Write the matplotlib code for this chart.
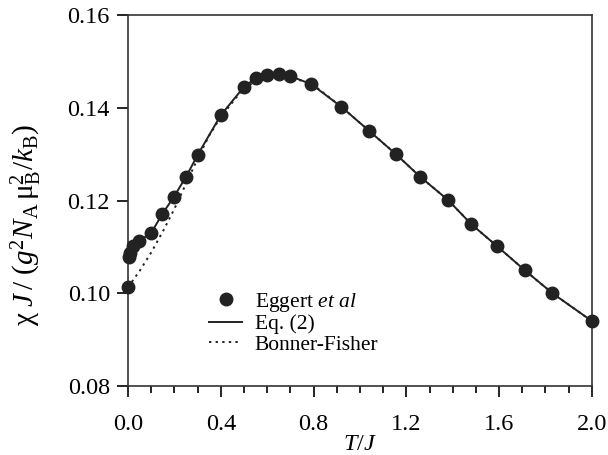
import matplotlib
matplotlib.use("Agg")
import matplotlib.pyplot as plt
from matplotlib.ticker import MultipleLocator

plt.rcParams['font.family'] = ['Liberation Serif', 'DejaVu Serif']
plt.rcParams['mathtext.fontset'] = 'custom'
plt.rcParams['mathtext.rm'] = 'Liberation Serif'
plt.rcParams['mathtext.it'] = 'Liberation Serif:italic'
plt.rcParams['mathtext.bf'] = 'Liberation Serif:bold'

# Eggert et al data points
eggert_T = [0.0, 0.003, 0.008, 0.022, 0.048, 0.10, 0.148, 0.198, 0.25, 0.30,
            0.40, 0.50, 0.55, 0.60, 0.65, 0.70, 0.79, 0.92, 1.04, 1.155,
            1.26, 1.38, 1.48, 1.59, 1.71, 1.83, 2.0]
eggert_chi = [0.1013, 0.1078, 0.1087, 0.1102, 0.1113, 0.1130, 0.1171, 0.1208, 0.1251, 0.1298,
              0.1384, 0.1445, 0.1464, 0.1471, 0.1473, 0.1468, 0.1451, 0.1402, 0.1350, 0.1300,
              0.1251, 0.1201, 0.1149, 0.1102, 0.1050, 0.1000, 0.0940]

# Eq. (2) curve
eq2_T = [0.003, 0.008, 0.022, 0.048, 0.10, 0.148, 0.198, 0.25, 0.30,
         0.40, 0.50, 0.55, 0.60, 0.65, 0.70, 0.79, 0.92, 1.04, 1.155,
         1.26, 1.38, 1.48, 1.59, 1.71, 1.83, 2.0]
eq2_chi = [0.1078, 0.1087, 0.1102, 0.1113, 0.1130, 0.1171, 0.1208, 0.1251, 0.1298,
           0.1384, 0.1445, 0.1464, 0.1471, 0.1473, 0.1468, 0.1451, 0.1402, 0.1350, 0.1300,
           0.1251, 0.1201, 0.1149, 0.1102, 0.1050, 0.1000, 0.0940]

# Bonner-Fisher curve
bf_T = [0.0, 0.05, 0.10, 0.15, 0.20, 0.25, 0.30, 0.35, 0.40, 0.50, 0.60, 0.65, 0.70,
        0.80, 0.92, 1.04, 1.155, 1.26, 1.38, 1.48, 1.59, 1.71, 1.83, 2.0]
bf_chi = [0.1013, 0.1048, 0.1088, 0.1133, 0.1182, 0.1236, 0.1290, 0.1340, 0.1380, 0.1443,
          0.1470, 0.1472, 0.1467, 0.1449, 0.1402, 0.1350, 0.1300, 0.1251, 0.1201, 0.1149,
          0.1102, 0.1050, 0.1000, 0.0940]

fig = plt.figure(figsize=(6.08, 4.55), dpi=100)
ax = fig.add_axes([0.2105, 0.1516, 0.763, 0.8154])

ax.plot(bf_T, bf_chi, color="#222222", linestyle=(0, (1.2, 2.2)), linewidth=1.4,
        label="Bonner-Fisher", zorder=2)
ax.plot(eq2_T, eq2_chi, color="#222222", linewidth=1.4, label="Eq. (2)", zorder=3)
ax.plot(eggert_T, eggert_chi, "o", color="#222222", markersize=9,
        label=r"Eggert $\it{et\ al}$", zorder=4, clip_on=False)

ax.set_xlim(0, 2.0)
ax.set_ylim(0.08, 0.16)
ax.xaxis.set_major_locator(MultipleLocator(0.4))
ax.xaxis.set_minor_locator(MultipleLocator(0.1))
ax.yaxis.set_major_locator(MultipleLocator(0.02))
ax.xaxis.set_major_formatter(plt.FormatStrFormatter("%.1f"))
ax.yaxis.set_major_formatter(plt.FormatStrFormatter("%.2f"))
ax.tick_params(which="major", direction="out", length=8, width=1.2,
               labelsize=17.5, top=False, right=False)
ax.tick_params(axis="x", which="major", pad=12)
ax.tick_params(axis="y", which="major", pad=5)
ax.tick_params(which="minor", direction="out", length=5, width=1.2, top=False, right=False)
for s in ax.spines.values():
    s.set_linewidth(1.2)
    s.set_color("#333333")

ax.set_xlabel(r"$T/J$", fontsize=17.5)
ax.xaxis.set_label_coords(0.5, -0.13)
ax.set_ylabel(r"$\mathrm{\chi}\ J\,/\ (g^2N_{\rm A}\,\mathrm{\mu}_{\rm B}^{2}/k_{\rm B})$",
              fontsize=21)
ax.yaxis.set_label_coords(-0.18, 0.434)

h, l = ax.get_legend_handles_labels()
ax.legend(h[::-1], l[::-1], loc="lower left", bbox_to_anchor=(0.157, 0.061),
          frameon=False, fontsize=15.5, handlelength=1.5, handletextpad=0.6,
          labelspacing=0.02, borderaxespad=0)

fig.savefig("out.png", dpi=100)
